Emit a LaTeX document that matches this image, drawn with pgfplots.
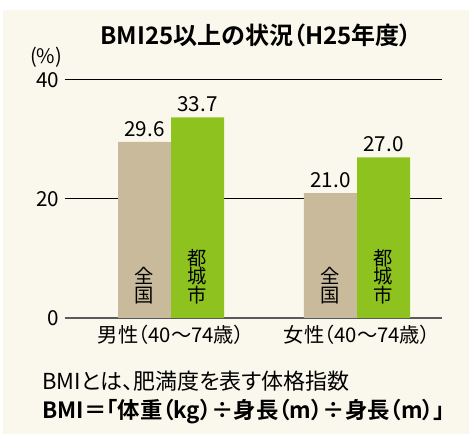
\documentclass[border=0pt]{standalone}
\usepackage{pgfplots}
\pgfplotsset{compat=1.18}
\usepackage{fontspec}
\setmainfont{Noto Sans CJK JP}[BoldFont={Noto Sans CJK JP Bold}, RawFeature=+palt]
\definecolor{bg}{RGB}{250,248,236}
\definecolor{zen}{RGB}{200,186,155}
\definecolor{miya}{RGB}{141,194,31}
\definecolor{axgray}{RGB}{90,90,90}
\begin{document}
\begin{tikzpicture}[x=0.75pt,y=-0.75pt]
\fill[white] (0,0) rectangle (469,434);
\fill[bg] (3,10) rectangle (469,434);
\begin{axis}[
  at={(48.75pt,-238.5pt)}, anchor=south west,
  scale only axis, width=282.75pt, height=178.5pt,
  xmin=-0.570, xmax=1.457, ymin=0, ymax=40,
  axis x line*=bottom, axis y line*=left,
  x axis line style={axgray, line width=1.5pt, -},
  y axis line style={draw=none},
  ytick={0,20,40}, ymajorgrids, grid style={black, line width=0.75pt},
  major tick length=0pt,
  xtick={0,1}, xticklabels={男性（40～74歳）,女性（40～74歳）},
  xticklabel style={font=\fontsize{15.2}{18}\selectfont, anchor=north, inner sep=0pt, yshift=-5pt},
  yticklabel style={font=\fontsize{15.5}{18}\selectfont, anchor=east, inner sep=0pt, xshift=-4pt},
  /pgf/number format/assume math mode=true,
  nodes near coords, point meta=explicit symbolic,
  every node near coord/.style={font=\fontsize{15.5}{18}\selectfont, anchor=south, inner sep=0pt, yshift=4pt},
  clip=false,
]
\addplot[ybar, bar width=0.285, bar shift=0pt, fill=zen, draw=none]
  coordinates {(-0.1425,29.6) [29.6] (0.8575,21.0) [21.0]};
\addplot[ybar, bar width=0.285, bar shift=0pt, fill=miya, draw=none]
  coordinates {(0.1425,33.7) [33.7] (1.1425,27.0) [27.0]};
\begin{scope}[every node/.style={anchor=south, align=center, inner sep=0pt, font=\fontsize{14.5}{13.9}\selectfont}]
\node[yshift=10.5pt] at (axis cs:-0.1425,0) {全\\国};
\node[yshift=10.5pt] at (axis cs:0.1425,0) {都\\城\\市};
\node[yshift=10.5pt] at (axis cs:0.8575,0) {全\\国};
\node[yshift=10.5pt] at (axis cs:1.1425,0) {都\\城\\市};
\end{scope}
\end{axis}
\node[font=\bfseries\fontsize{18}{21}\selectfont, inner sep=0pt] at (256,35) {BMI25以上の状況（H25年度）};
\node[font=\fontsize{15}{18}\selectfont, inner sep=0pt] at (46,57) {(\%)};
\node[font=\fontsize{16.5}{19}\selectfont, inner sep=0pt, anchor=west] at (42,381) {BMIとは、肥満度を表す体格指数};
\node[font=\bfseries\fontsize{16.8}{19}\selectfont, inner sep=0pt, anchor=west] at (42,412) {BMI＝「体重（kg）÷身長（m）÷身長（m）」};
\pgfresetboundingbox
\path[use as bounding box] (0,0) rectangle (469,434);
\end{tikzpicture}
\end{document}
